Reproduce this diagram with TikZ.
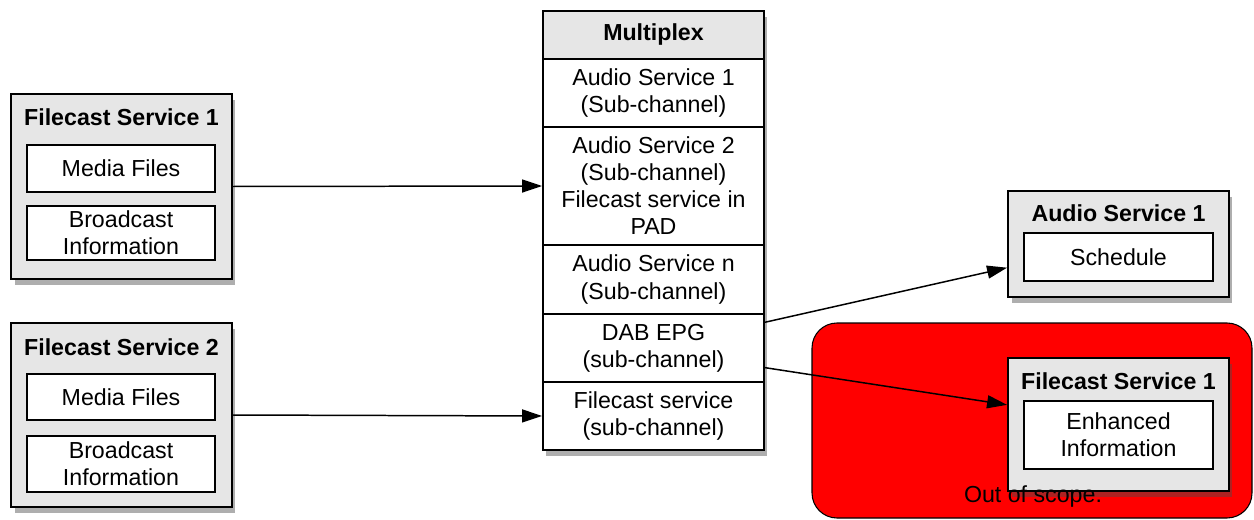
\documentclass[tikz,border=0pt]{standalone}
\usepackage{fontspec}
\setmainfont{Liberation Sans}
\usetikzlibrary{arrows.meta,shadows}
\definecolor{boxgray}{HTML}{E6E6E6}
\tikzset{
  outerbox/.style={draw, line width=1.1pt, fill=boxgray, inner sep=0pt,
    drop shadow={shadow xshift=0.07cm, shadow yshift=-0.12cm, opacity=0.45, fill=black!70}},
  innerbox/.style={draw, line width=0.85pt, fill=white, inner sep=0pt, align=center},
  rowbox/.style={draw, line width=1.1pt, fill=white, inner sep=0pt, align=center,
    minimum width=4.42cm},
  title/.style={font=\bfseries},
  link/.style={line width=0.85pt, -{Triangle[length=0.4cm, width=0.26cm]}}
}
\begin{document}
\fontsize{13.2}{15.4}\selectfont
\begin{tikzpicture}[x=0.02cm, y=-0.02cm]
\useasboundingbox (0,0) rectangle (1254,520);
% left services
\node[outerbox, minimum width=4.42cm, minimum height=3.70cm] (fsa) at (121.5,186.5){};
\node[title] (fsatitle) at (121.5,117){Filecast Service 1};
\node[innerbox, minimum width=3.76cm, minimum height=0.94cm] (fsamedia) at (121,168.5){Media Files};
\node[innerbox, minimum width=3.76cm, minimum height=1.08cm] (fsainfo) at (121,233){Broadcast\\Information};
\node[outerbox, minimum width=4.42cm, minimum height=3.68cm] (fsb) at (121.5,415){};
\node[title] (fsbtitle) at (121.5,347){Filecast Service 2};
\node[innerbox, minimum width=3.76cm, minimum height=0.92cm] (fsbmedia) at (121,397){Media Files};
\node[innerbox, minimum width=3.76cm, minimum height=1.12cm] (fsbinfo) at (121,464){Broadcast\\Information};
% multiplex
\fill[black!70, opacity=0.45] (546,17) rectangle (767,456);
\node[rowbox, fill=boxgray, minimum height=0.96cm, title] (mhead) at (653.5,35){Multiplex};
\node[rowbox, minimum height=1.36cm] (mrowa) at (653.5,93){Audio Service 1\\(Sub-channel)};
\node[rowbox, minimum height=2.36cm] (mrowb) at (653.5,186){Audio Service 2\\(Sub-channel)\\Filecast service in\\PAD};
\node[rowbox, minimum height=1.38cm] (mrown) at (653.5,279.5){Audio Service n\\(Sub-channel)};
\node[rowbox, minimum height=1.36cm] (mdab) at (653.5,348){DAB EPG\\(sub-channel)};
\node[rowbox, minimum height=1.36cm] (mfile) at (653.5,416){Filecast service\\(sub-channel)};
% out of scope area
\draw[line width=0.6pt, fill=red, rounded corners=0.5cm] (812,323) rectangle (1252,518);
% right services
\node[outerbox, minimum width=4.42cm, minimum height=2.12cm] (asr) at (1118.5,244){};
\node[title] (asrtitle) at (1118.5,213){Audio Service 1};
\node[innerbox, minimum width=3.78cm, minimum height=0.96cm] (asrsched) at (1118.5,257){Schedule};
\node[outerbox, minimum width=4.42cm, minimum height=2.66cm] (fsr) at (1118.5,424.5){};
\node[title] (fsrtitle) at (1118.5,381){Filecast Service 1};
\node[innerbox, minimum width=3.78cm, minimum height=1.36cm] (fsrinfo) at (1118.5,435){Enhanced\\Information};
\node (scope) at (1033,497){Out of scope.};
% links
\draw[link] (fsa.east) -- (mrowb.west);
\draw[link] (fsb.east) -- (mfile.west);
\draw[link] (mdab.13) -- (asr.192);
\draw[link] (mdab.-10) -- (fsr.170);
\end{tikzpicture}
\end{document}
